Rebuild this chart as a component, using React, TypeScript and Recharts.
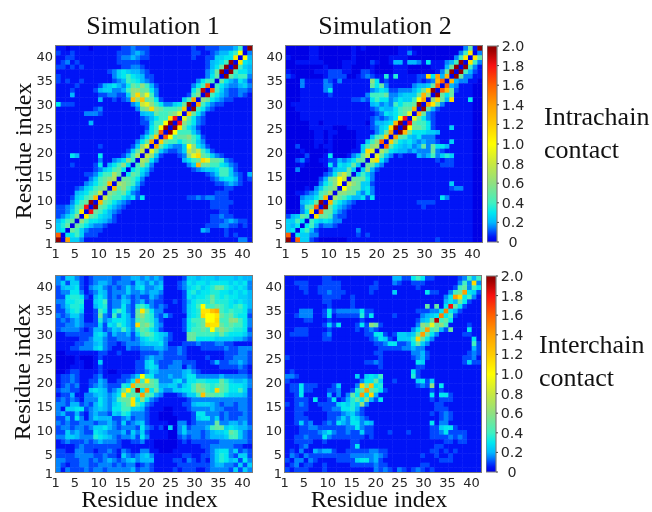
import { Bar, BarChart, Scatter, ScatterChart, XAxis, YAxis } from 'recharts'

// one symbol per cell, 0.05 per step, rows run from residue 42 down to residue 1
const symbols = '0123456789abcdefghijklmnopqrstuvwxyzABCDE'

const intraSim1 = [
  '11011 11011 11112 23222 11111 11112 11222 33348 1E',
  '21121 11111 11122 23432 11111 11112 21123 4468k 03',
  '11221 11111 11123 34322 11111 11112 11225 566m0 k4',
  '12312 11111 11122 22211 11111 11111 11245 68E0m 65',
  '22121 21111 11112 23321 11111 11111 11246 aE0E8 54',
  '11111 11111 12356 54432 11111 11111 1135a E0E86 64',
  '21111 11111 11356 86542 21111 11111 1136a 0Ea78 83',
  '21211 21111 11234 87643 21111 11111 36880 a6436 42',
  '11112 11112 45643 6a8c8 42111 11113 68w08 64334 53',
  '11121 11124 55334 8ccaa 63111 11116 aC0w8 53223 32',
  '11141 11112 23322 5cnci 83111 11128 c0C86 43223 21',
  '11111 11114 11212 3pcpa a6211 1158s 0ca64 32211 11',
  '62221 11111 11111 135gi c8633 56aE0 s8532 21111 11',
  '11111 11123 11111 113ac nca88 8ao0E 86321 11111 11',
  '11111 13332 11111 11145 5a88a ci0oa 63111 11111 11',
  '11111 11111 11111 11123 4688m A0ia6 32111 11111 11',
  '11111 11411 11111 11122 588kE 0Ac86 32111 11111 11',
  '11111 11111 11111 11112 68kE0 Ema64 21111 11111 11',
  '11111 11111 11111 11113 6aw0E k8885 31111 11111 11',
  '11111 11111 11111 11136 ao0wk 8aac8 62111 11111 11',
  '11111 11111 11111 1136a s0oa8 868a8 53111 11111 11',
  '11111 11112 11111 125ci 0sa64 335kc 64211 11111 11',
  '11111 11111 11111 25ag0 ia532 235gc g8521 11111 11',
  '11164 11116 11112 48e0g c5211 123ci na853 21111 11',
  '11111 11113 11346 c80ec 63111 11468 aniaa 83211 11',
  '11121 11126 1468c 608c7 31111 11135 qaa88 65321 11',
  '11111 11123 568a6 06864 21111 11112 34556 88521 11',
  '11111 12236 88ea0 6a853 11111 11111 11235 88532 14',
  '11111 11358 ace0a a8631 11111 11111 11123 56642 12',
  '11111 13468 aq0ec a8421 11111 11111 11112 23432 11',
  '11112 3568a c0qac 85311 11111 11111 11111 12211 11',
  '11114 568ag 0ca8a 63211 11111 11111 11112 22111 11',
  '11125 68aq0 ga886 46261 11111 11122 32332 22111 11',
  '11136 8aE0q a8643 21111 11111 11111 11122 22211 11',
  '22348 aA0Ea 86432 11111 11111 11111 11122 22111 11',
  '22358 m0Aa8 64321 11111 11111 11111 11111 22111 11',
  '2357c 0ma86 54211 11111 11111 11111 11122 32211 11',
  '468a0 c8665 43211 11111 11111 11111 11122 23432 21',
  '57a0a 86433 21111 11111 11111 11111 11222 33221 21',
  '560a8 53222 11111 11111 11111 11111 14311 12111 11',
  'w0668 52221 11111 11111 11111 11111 11111 12121 11',
  'E0s55 31111 11111 11111 11111 11111 11111 11113 31',
]

const intraSim2 = [
  '00000 11000 00001 01000 00001 11000 00000 0003a 1E',
  '00000 11000 00001 00000 00001 13100 00000 0038m 03',
  '10000 11000 00001 00000 00111 10000 00000 038m0 ma',
  '00111 11100 00111 00021 00144 14431 61113 48E0m 83',
  '00000 00010 00110 00010 00011 10000 01114 aE0E8 31',
  '10000 01112 22110 02210 00011 10000 0013a E0E84 21',
  '21000 00012 22200 12321 17171 11122 n6s4q 0Ea33 11',
  '00031 11132 13111 111c6 12111 11121 23qw0 q4331 10',
  '00031 11133 11111 111a6 a3111 11344 5aw0w 43111 00',
  '00011 11136 11111 11134 65223 3346a nE0wq a2111 00',
  '00011 11112 11111 11388 8a334 555aq c0Ea6 a1111 00',
  '00011 11111 11112 23268 66346 558ks 0cna4 n1116 00',
  '01111 11111 11111 11145 34386 88aE0 sma31 11111 00',
  '00111 11111 11111 11123 54468 aaq0E a4211 11111 00',
  '00011 11111 11111 11112 36568 ai0qa 32111 11111 00',
  '00011 11111 11111 11123 2346k A0ia6 32111 11111 00',
  '00000 11011 11111 11024 456qE 0Aa88 62111 11111 00',
  '00000 11111 00011 11123 56mE0 Ekaa8 62111 51111 00',
  '00000 01101 10000 11113 5as0E qa666 55411 11111 00',
  '00000 01101 00000 11148 ao0sa 85463 33111 11111 00',
  '00000 01101 00000 1158c w0oa6 56434 33211 51111 00',
  '00200 01011 00000 158ce 0wa65 4534a 3a664 11111 00',
  '00010 00001 00001 15ni0 ea654 43433 3a321 11111 00',
  '00002 00016 00013 5ag0i a5312 11143 48357 51111 00',
  '00231 00112 24346 aa0gn 63111 11111 11212 21111 00',
  '00010 00016 2656a 50aa5 31111 11111 11122 21111 00',
  '00300 00002 455a5 05c42 11111 11111 11111 11111 00',
  '00000 00023 6cga0 58531 11111 11111 11111 11111 00',
  '00000 0024a ckg0a aa631 11111 11111 11111 11111 00',
  '00000 00368 ck0gc a5521 11111 11111 11111 51111 00',
  '00001 0358a c0kca a5631 11111 11111 11111 23311 00',
  '00112 348ae 0ccaa 53631 11111 11111 11111 11111 00',
  '00034 468q0 ea864 46261 11111 11111 11163 11111 00',
  '00045 6aE0q 86432 11111 11111 11122 22111 11111 00',
  '00038 aw0Ea 64321 11111 11111 11112 11111 11111 00',
  '00036 n0waa 53211 11111 11111 11111 11111 11111 00',
  '245a8 0naa8 32211 11111 11111 11111 11111 11111 00',
  '55860 86565 33111 11111 11111 11111 11111 11111 00',
  '54606 84233 21111 11111 11111 11111 11111 11111 00',
  '56068 42111 11111 31111 11111 11111 11111 11111 00',
  'w0655 33111 11111 21211 11111 11111 11111 11111 00',
  'E0w55 21000 00011 11111 11111 11111 11211 11111 00',
]

const interSim1 = [
  '32553 21233 33223 34434 34311 11255 45554 55545 44',
  '35255 21234 43233 32543 53411 12365 66566 66565 63',
  '24556 21345 32323 53563 34511 12356 7567a a7656 53',
  '23366 31235 42333 53343 44311 11267 56677 66565 64',
  '22677 62146 42324 32322 43211 11265 667a7 67665 54',
  '33667 71156 82335 42342 32211 21246 777a7 77656 54',
  '23577 61146 72336 32786 32321 11256 8k88a 87678 64',
  '22467 51128 62686 32ama 63311 11256 7mmpr 87877 63',
  '32355 3112a 32836 42ac8 73242 11156 7nkkm a8a76 62',
  '23234 31127 34666 438a8 74211 11268 8akkn 88cc8 63',
  '22334 32225 26586 43nac 84311 11267 8anmm a8a88 63',
  '23333 21244 23548 537a8 64211 11268 8a8ka ca877 62',
  '11222 22256 42433 4258a 86542 111aa 88887 a7666 53',
  '11111 22355 32233 32356 76532 111aa 66665 55544 32',
  '11112 23345 32212 33345 55631 11222 32223 32211 11',
  '11122 33356 32111 32233 34432 23211 12222 23223 33',
  '00111 11112 21121 11122 22322 23211 11111 12223 32',
  '00001 00012 11111 11123 43322 22211 11211 12233 32',
  '00001 10015 11111 11225 63222 33222 11124 22334 32',
  '00011 10012 11111 11225 65223 33132 11111 22223 21',
  '00122 11112 10011 11223 54333 33453 21111 11112 21',
  '12232 11123 11112 235k7 63334 33466 33333 43333 32',
  '12232 11224 31122 36s8m a8333 56366 77666 a7544 53',
  '12323 11234 32227 6qaca a8445 53568 ca878 a8666 53',
  '23322 11565 4235a m8E6s 6a533 55668 cc87n a8668 52',
  '12241 13345 4346m 8a8sa 84311 12355 8paa8 86555 42',
  '23232 13336 4348a am6c6 32111 11123 33333 33333 32',
  '33244 23246 43568 am863 21111 11224 55543 23323 32',
  '31556 62345 43668 85542 11100 11123 33343 32223 32',
  '34224 21343 32547 63332 11000 11112 66333 23222 32',
  '22426 31354 44223 42332 11000 01112 56635 23223 32',
  '32322 33323 34325 23452 11110 03312 3333a 33443 42',
  '23323 32355 64323 33263 21205 03523 3348a a5654 43',
  '22534 32265 43334 25352 11110 03533 32345 56a85 32',
  '33554 33376 54323 34263 11110 02323 32344 45885 32',
  '12322 23234 33321 12231 10000 01212 22222 33333 32',
  '11112 32222 22221 11111 10000 01111 12233 33322 11',
  '22113 32212 23213 21133 11000 11111 11235 66352 32',
  '22223 33322 32215 32345 31111 11221 12235 76325 52',
  '33222 33232 34323 45344 41111 22132 12135 76452 63',
  '32122 33223 33232 33123 21111 12222 22234 43325 25',
  '31322 23233 23333 34233 21111 21222 11233 33252 53',
]

const interSim2 = [
  '11111 11122 11111 11111 11144 22686 22111 1123 8 48',
  '11222 11122 22111 11112 11132 11222 11111 1138 3 n3',
  '11122 11222 22111 11122 11111 11121 11111 128a3 86',
  '11112 11223 22211 11121 11151 11111 62211 38as6 52',
  '11111 11122 22112 11111 11111 11111 11113 6sn68 31',
  '11111 11122 11112 11111 11111 11111 11114 64a62 11',
  '11111 11112 11112 11111 11111 11111 a1a16 Aa621 11',
  '11133 31126 23333 36221 11111 11122 2336u 64211 11',
  '11233 31126 12222 27261 11121 11113 456u6 82111 11',
  '11112 21112 11111 12111 11111 11124 5aC8a 61111 11',
  '11111 11125 26111 262ca 21111 1113c aiac8 11112 11',
  '11222 11112 11111 21232 11111 1136a s8a42 a1116 11',
  '12222 11123 11111 11226 62125 545as a6311 11122 11',
  '11111 11122 11111 11123 65215 557na 63111 11111 61',
  '11111 11111 11111 11112 23662 236a5 31111 11111 82',
  '11111 11111 11111 11111 22222 33433 11111 11111 42',
  '11111 11111 11111 11112 21111 11334 21111 11112 32',
  '21111 11111 11111 11111 21111 11234 21111 11122 31',
  '11111 11111 11111 11223 21111 11165 11111 11125 22',
  '11111 11111 11111 11111 21111 11122 11111 11111 11',
  '12111 11111 11111 11111 11111 11621 11111 11111 11',
  '33211 11111 11111 51565 81111 11721 11111 11111 11',
  '21111 11111 11111 1366a 51121 11156 25111 11111 11',
  '12262 22111 25111 3nap6 71111 11123 2c161 11111 11',
  '12262 21112 23112 7asa8 62111 11111 12121 11111 11',
  '11261 11114 1313a 6s6n4 11111 11111 16166 21111 11',
  '11222 16112 6124 7 a6c42 61111 11111 12122 21111 11',
  '21232 11222 2565 7 5c311 11111 11111 11221 11111 11',
  '11222 11122 33667 42111 11111 11111 11222 11111 11',
  '11221 11112 22345 32111 11111 11111 12123 21111 11',
  '11222 11112 23536 53211 11111 11111 11123 21111 11',
  '11252 31123 26436 63541 11111 11111 16133 11111 11',
  '11122 33222 22233 63221 11111 11111 12256 62111 11',
  '11122 22346 32232 25221 11211 12111 12236 22221 11',
  '11223 22263 22222 22121 11111 11111 12222 32321 11',
  '11222 21121 11112 21111 11111 11111 11112 21221 11',
  '11123 11111 11112 61111 11111 11111 11221 11111 11',
  '12131 14344 21122 22233 22111 11111 12212 12111 11',
  '13213 22222 22223 33334 32111 11112 11211 21111 11',
  '21331 32111 12222 56634 21111 11111 11122 21111 11',
  '12312 21121 11112 22223 22111 11112 21111 11111 11',
  '21222 11121 11111 11113 23213 21232 12111 11111 11',
]

const residueTicks = [1, 5, 10, 15, 20, 25, 30, 35, 40]
const colorbarTicks = [0, 0.2, 0.4, 0.6, 0.8, 1, 1.2, 1.4, 1.6, 1.8, 2]
const colorbarData = [{ name: 'contact', value: 2 }]

const stopValues = [0, 0.05, 0.1, 0.15, 0.2, 0.3, 0.4, 0.6, 0.8, 1, 1.2, 1.4, 1.6, 1.8, 1.95, 2]
const stopColors = [
  '#0000e6', '#0014f6', '#0048ff', '#0084ff', '#00b8ff', '#00e8f0', '#40f0c0', '#90e080',
  '#c8e840', '#ffff00', '#ffcc00', '#ffa000', '#ff6000', '#f81010', '#a00000', '#900000',
]

const PLOT = 196
const CELL = PLOT / 42

function hexToRgb(hex: string) {
  return [1, 3, 5].map((i) => parseInt(hex.slice(i, i + 2), 16))
}

function contactColor(value: number) {
  let i = 0
  while (i < stopValues.length - 2 && value > stopValues[i + 1]) i++
  const t = (value - stopValues[i]) / (stopValues[i + 1] - stopValues[i])
  const a = hexToRgb(stopColors[i])
  const b = hexToRgb(stopColors[i + 1])
  return `rgb(${a.map((c, k) => Math.round(c + (b[k] - c) * t)).join(',')})`
}

function toCells(rows: string[]) {
  return rows.flatMap((row, r) =>
    row
      .replace(/ /g, '')
      .split('')
      .map((ch, c) => ({ x: c + 1, y: 42 - r, value: symbols.indexOf(ch) / 20 })),
  )
}

const drawCell = (props: any) => (
  <rect
    x={props.cx - CELL / 2}
    y={props.cy - CELL / 2}
    width={CELL + 0.5}
    height={CELL + 0.5}
    fill={contactColor(props.payload.value)}
  />
)

const frame = '#7c7c7c'
const tickFont = { fontFamily: 'DejaVu Sans', fontSize: 13, fill: '#262626' }

// the printed labels sit on a slightly wider spacing than the cells
function XTick(gap: number) {
  return (props: any) => (
    <text x={props.x + (props.payload.value - 25) * 0.12 + 0.3} y={props.y + gap} textAnchor="middle" {...tickFont}>
      {props.payload.value}
    </text>
  )
}

const drawYTick = (props: any) => (
  <text
    x={props.x}
    y={props.y + 5 + Math.min(3.5, (25 - props.payload.value) * 0.134 + 0.8)}
    textAnchor="end"
    {...tickFont}
  >
    {props.payload.value}
  </text>
)

function Panel({ rows, left, top, gap }: { rows: string[]; left: number; top: number; gap: number }) {
  return (
    <div style={{ position: 'absolute', left: left - 40, top: top - 4 }}>
      <ScatterChart
        width={40 + PLOT + 4}
        height={4 + PLOT + 24}
        margin={{ top: 4, right: 4, bottom: 0, left: 0 }}
      >
        <XAxis
          type="number"
          dataKey="x"
          domain={[0.5, 42.5]}
          ticks={residueTicks}
          interval={0}
          height={24}
          tickSize={0}
          tickMargin={0}
          axisLine={false}
          tick={XTick(gap)}
        />
        <YAxis
          type="number"
          dataKey="y"
          domain={[0.5, 42.5]}
          ticks={residueTicks}
          interval={0}
          width={40}
          tickSize={0}
          tickMargin={3}
          axisLine={false}
          tick={drawYTick}
        />
        <Scatter data={toCells(rows)} shape={drawCell} isAnimationActive={false} />
      </ScatterChart>
      <div
        style={{
          position: 'absolute',
          left: 40 - 1,
          top: 4 - 1,
          width: PLOT,
          height: PLOT,
          border: `1.5px solid ${frame}`,
        }}
      />
    </div>
  )
}

const drawColorbarTick = (props: any) => (
  <text
    x={props.x + 12}
    y={props.y + 5}
    textAnchor="middle"
    fontFamily="DejaVu Sans"
    fontSize={14.3}
    fill="#262626"
  >
    {props.payload.value === 0 ? '0' : props.payload.value.toFixed(1)}
  </text>
)

function Colorbar({ id, left, top }: { id: string; left: number; top: number }) {
  return (
    <div style={{ position: 'absolute', left, top: top - 10 }}>
      <BarChart
        width={50}
        height={PLOT + 20}
        data={colorbarData}
        barCategoryGap={0}
        margin={{ top: 10, right: 0, bottom: 10, left: 0 }}
      >
        <defs>
          <linearGradient id={id} x1="0" y1="1" x2="0" y2="0">
            {stopValues.map((v, i) => (
              <stop key={v} offset={v / 2} stopColor={stopColors[i]} />
            ))}
          </linearGradient>
        </defs>
        <XAxis dataKey="name" hide />
        <YAxis
          orientation="right"
          domain={[0, 2]}
          ticks={colorbarTicks}
          interval={0}
          width={40}
          axisLine={false}
          tickSize={2}
          stroke="#444444"
          tick={drawColorbarTick}
        />
        <Bar dataKey="value" fill={`url(#${id})`} stroke={frame} strokeWidth={1.2} isAnimationActive={false} />
      </BarChart>
    </div>
  )
}

const serif = { fontFamily: 'Liberation Serif', fill: '#111111' }

export default function App() {
  return (
    <div style={{ position: 'absolute', left: 0, top: 0, width: 652, height: 512, background: '#fff', filter: 'blur(0.45px)' }}>
      <Panel rows={intraSim1} left={56} top={46} gap={16} />
      <Panel rows={intraSim2} left={286} top={46} gap={16} />
      <Panel rows={interSim1} left={56} top={276} gap={15} />
      <Panel rows={interSim2} left={285} top={276} gap={15} />
      <Colorbar id="jet-intra" left={487} top={45.5} />
      <Colorbar id="jet-inter" left={486} top={276} />
      <svg width={652} height={512} style={{ position: 'absolute', left: 0, top: 0, pointerEvents: 'none' }}>
        <text x={153} y={34} textAnchor="middle" fontSize={26} {...serif}>Simulation 1</text>
        <text x={385} y={34} textAnchor="middle" fontSize={26} {...serif}>Simulation 2</text>
        <text x={544} y={125} fontSize={26} {...serif}>Intrachain</text>
        <text x={544} y={158} fontSize={26} {...serif}>contact</text>
        <text x={539} y={353} fontSize={26} {...serif}>Interchain</text>
        <text x={539} y={386} fontSize={26} {...serif}>contact</text>
        <text transform="translate(30.5 151) rotate(-90)" textAnchor="middle" fontSize={24} {...serif}>Residue index</text>
        <text transform="translate(30 372) rotate(-90)" textAnchor="middle" fontSize={24} {...serif}>Residue index</text>
        <text x={149.5} y={506.5} textAnchor="middle" fontSize={24} {...serif}>Residue index</text>
        <text x={379} y={506.5} textAnchor="middle" fontSize={24} {...serif}>Residue index</text>
      </svg>
    </div>
  )
}
